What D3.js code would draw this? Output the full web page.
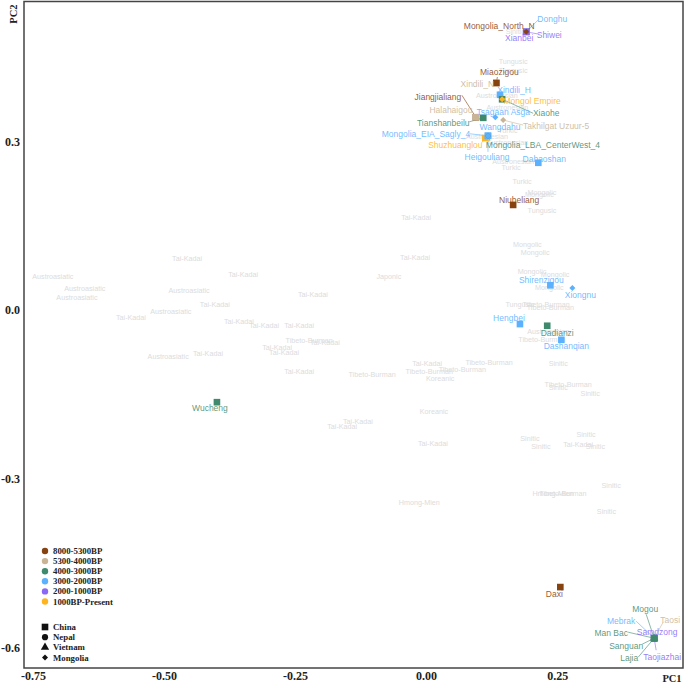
<!DOCTYPE html>
<html lang="en">
    <head>
        <meta charset="utf-8">
        <title>PCA of ancient and present-day populations</title>
        <script type="text/javascript" src="https://cdn.jsdelivr.net/npm/d3@7/dist/d3.min.js"></script>
        <style>
            html, body { margin: 0; padding: 0; background: #fff; }
            svg { display: block; }
        </style>
    </head>
    <body>
        <script type="text/javascript">
            // present-day reference groups (grey background labels)
            var groupNames = [
                "Sinitic", "Tungusic", "Tungusic", "Austronesian", "Austronesian", "Turkic", "Austronesian", "Austronesian",
                "Austronesian", "Turkic", "Turkic", "Mongolic", "Mongolic", "Tungusic", "Tai-Kadai", "Tai-Kadai",
                "Japonic", "Mongolic", "Mongolic", "Mongolic", "Mongolic", "Mongolic", "Tungusic", "Tibeto-Burman",
                "Tibeto-Burman", "Austronesian", "Tibeto-Burman", "Tai-Kadai", "Tai-Kadai", "Tai-Kadai", "Austroasiatic", "Austroasiatic",
                "Austroasiatic", "Austroasiatic", "Tai-Kadai", "Austroasiatic", "Tai-Kadai", "Tai-Kadai", "Tai-Kadai", "Tai-Kadai",
                "Tibeto-Burman", "Tai-Kadai", "Tai-Kadai", "Tai-Kadai", "Austroasiatic", "Tai-Kadai", "Tai-Kadai", "Tibeto-Burman",
                "Tai-Kadai", "Tibeto-Burman", "Tibeto-Burman", "Tibeto-Burman", "Koreanic", "Koreanic", "Tai-Kadai", "Tai-Kadai",
                "Tai-Kadai", "Hmong-Mien", "Sinitic", "Tibeto-Burman", "Sinitic", "Sinitic", "Sinitic", "Sinitic",
                "Sinitic", "Tai-Kadai", "Sinitic", "Sinitic", "Hmong-Mien", "Tibeto-Burman", "Sinitic"
            ];
            var groupPc1 = [
                .170, .166, .166, .135, .155, .156, .116, .155,
                .166, .162, .183, .221, .216, .221, -.019, -.021,
                -.071, .193, .208, .202, .246, .235, .179, .229,
                .237, .233, .221, -.456, -.349, -.216, -.712, -.651,
                -.666, -.452, -.403, -.487, -.563, -.357, -.309, -.242,
                -.223, -.193, -.284, -.271, -.492, -.416, -.242, -.103,
                .002, .006, .069, .120, .027, .015, -.130, -.160,
                .013, -.013, .252, .271, .252, .313, .305, .198,
                .219, .290, .323, .353, .242, .261, .344
            ];
            var groupPc2 = [
                .495, .443, .427, .381, .361, .319, .308, .299,
                .265, .254, .228, .210, .205, .178, .165, .094,
                .060, .117, .103, .069, .064, .041, .009, .009,
                .004, -.039, -.053, .091, .064, .028, .059, .039,
                .023, .034, .009, -.002, -.014, -.020, -.027, -.027,
                -.055, -.057, -.066, -.075, -.082, -.077, -.110, -.114,
                -.096, -.110, -.105, -.094, -.121, -.180, -.199, -.208,
                -.238, -.343, -.096, -.133, -.137, -.148, -.221, -.228,
                -.242, -.240, -.242, -.313, -.326, -.327, -.359
            ];

            // ancient samples
            var sampleNames = [
                "Mongolia_North_N", "Donghu", "Shiwei", "Xianbei", "Xindili_N", "Miaozigou", "Xindili_H", "Xiaohe",
                "Mongol Empire", "Jiangjialiang", "Halahaigou", "Tianshanbeilu", "Tsagaan Asga", "Takhilgat Uzuur-5", "Shuzhuanglou", "Mongolia_LBA_CenterWest_4",
                "Heigouliang", "Wangdahu", "Mongolia_EIA_Sagly_4", "Dabaoshan", "Niuheliang", "Shirenzigou", "Xiongnu", "Hengbei",
                "Dadianzi", "Dashanqian", "Wucheng", "Daxi", "Taosi", "Mebrak", "Taojiazhai", "Samdzong",
                "Man Bac", "Mogou", "Sanguan", "Lajia"
            ];
            var samplePc1 = [
                .191, .191, .191, .191, .134, .134, .141, .145,
                .145, .095, .095, .109, .132, .147, .113, .118,
                .118, .118, .118, .214, .166, .237, .279, .179,
                .231, .258, -.399, .256, .435, .435, .435, .435,
                .435, .435, .435, .435
            ];
            var samplePc2 = [
                .495, .495, .495, .495, .404, .404, .383, .375,
                .375, .343, .343, .342, .343, .338, .306, .310,
                .310, .310, .310, .262, .187, .044, .039, -.025,
                -.028, -.053, -.164, -.493, -.584, -.584, -.584, -.584,
                -.584, -.584, -.584, -.584
            ];
            // index into periodNames
            var samplePeriod = [
                0, 3, 4, 4, 1, 0, 3, 2,
                5, 0, 1, 2, 3, 1, 5, 2,
                3, 3, 3, 3, 0, 3, 3, 3,
                2, 3, 2, 0, 1, 3, 4, 4,
                2, 2, 2, 2
            ];
            // index into countryNames
            var sampleCountry = [
                3, 0, 0, 0, 0, 0, 0, 0,
                3, 0, 0, 0, 3, 3, 0, 3,
                0, 0, 3, 0, 0, 0, 3, 0,
                0, 0, 0, 0, 0, 1, 0, 1,
                2, 0, 0, 0
            ];

            var periodNames = ["8000-5300BP", "5300-4000BP", "4000-3000BP", "3000-2000BP", "2000-1000BP", "1000BP-Present"];
            var countryNames = ["China", "Nepal", "Vietnam", "Mongolia"];
            var xTicks = [-0.75, -0.50, -0.25, 0, 0.25];
            var yTicks = [0.3, 0, -0.3, -0.6];

            var periodColors = ["#86420f", "#c9b596", "#3f8a6d", "#5cb1ff", "#8a68f5", "#ffb41e"];
            // the Mongolia diamond is a square turned by 45 degrees
            var countrySymbols = [d3.symbolSquare, d3.symbolCircle, d3.symbolTriangle, d3.symbolSquare];
            var countrySizes = [44, 30, 30, 18];
            var countryAngles = [0, 0, 0, 45];

            // label offset from the point, then the end of the leader line (if any)
            var labelLayout = {
                "Mongolia_North_N": [-27, -6],
                "Donghu": [26, -13, 12, -12],
                "Shiwei": [23, 3, 11, 2],
                "Xianbei": [-7, 6],
                "Xindili_N": [-19, 1, -3, 1],
                "Miaozigou": [3, -11, 1, -6],
                "Xindili_H": [14, -5],
                "Xiaohe": [44, 14, 31, 14],
                "Mongol Empire": [30, 2],
                "Jiangjialiang": [-38, -20, -14, -22],
                "Halahaigou": [-25, -7],
                "Tianshanbeilu": [-40, 5, -14, 4],
                "Tsagaan Asga": [8, -5],
                "Takhilgat Uzuur-5": [53, 6, 20, 5],
                "Shuzhuanglou": [-30, 7, -4, 5],
                "Mongolia_LBA_CenterWest_4": [55, 9, 2, 5],
                "Heigouliang": [-1, 21, 0, 16],
                "Wangdahu": [12, -9],
                "Mongolia_EIA_Sagly_4": [-62, -2, -18, -2],
                "Dabaoshan": [6, -4],
                "Niuheliang": [6, -5],
                "Shirenzigou": [-9, -5],
                "Xiongnu": [8, 7],
                "Hengbei": [-11, -6],
                "Dadianzi": [10, 7],
                "Dashanqian": [5, 6],
                "Wucheng": [-7, 6],
                "Daxi": [-6, 7],
                "Taosi": [16, -18, 9, -16],
                "Mogou": [-9, -29, -8, -24],
                "Man Bac": [-43, -5, -26, -6],
                "Sanguan": [-28, 8, -12, 6],
                "Lajia": [-25, 20, -16, 19],
                "Mebrak": [-33, -17, -18, -17],
                "Taojiazhai": [8, 19, 2, 12],
                "Samdzong": [3, -6]
            };

            //width and height
            var svgWidth = 685;
            var svgHeight = 683;
            var sansFont = "'Liberation Sans', Arial, sans-serif";
            var serifFont = "'Liberation Serif', 'Times New Roman', serif";

            var svg = d3.select("body")
                        .append("svg")
                        .attr("width", svgWidth)
                        .attr("height", svgHeight);

            var xScale = d3.scaleLinear().domain([-0.767, 0.490]).range([24, 683]);
            var yScale = d3.scaleLinear().domain([-0.637, 0.549]).range([668, 1.5]);

            function symbolPath(country) {
                return d3.symbol().type(countrySymbols[country]).size(countrySizes[country])();
            }

            //define x and y axis, tick marks are not drawn in this figure
            var xAxis = d3.axisBottom(xScale)
                          .tickValues(xTicks)
                          .tickFormat(function(d) { return d.toFixed(2); })
                          .tickSize(0)
                          .tickPadding(3);
            var yAxis = d3.axisLeft(yScale)
                          .tickValues(yTicks)
                          .tickFormat(function(d) { return d.toFixed(1); })
                          .tickSize(0)
                          .tickPadding(4);

            var X = svg.append("g").attr("transform", "translate(0,668)").call(xAxis);
            var Y = svg.append("g").attr("transform", "translate(24,0)").call(yAxis);

            [X, Y].forEach(function(axis) {
                axis.select(".domain").remove();
                axis.selectAll("text")
                    .attr("font-family", serifFont)
                    .attr("font-size", "12px")
                    .attr("font-weight", "bold")
                    .attr("fill", "#222");
            });

            // frame
            svg.append("rect")
                .attr("x", 24)
                .attr("y", 1.5)
                .attr("width", 659)
                .attr("height", 666.5)
                .attr("fill", "none")
                .attr("stroke", "#444")
                .attr("stroke-width", 1.5);

            svg.append("text")
                .attr("transform", "translate(17,14) rotate(-90)")
                .attr("text-anchor", "middle")
                .attr("font-family", serifFont)
                .attr("font-size", "10.5px")
                .attr("font-weight", "bold")
                .attr("fill", "#222")
                .text("PC2");

            svg.append("text")
                .attr("x", 672)
                .attr("y", 682)
                .attr("text-anchor", "middle")
                .attr("font-family", serifFont)
                .attr("font-size", "10.5px")
                .attr("font-weight", "bold")
                .attr("fill", "#222")
                .text("PC1");

            // grey group labels
            svg.append("g")
                .selectAll("text")
                .data(groupNames)
                .enter()
                .append("text")
                .attr("x", function(d, i) { return xScale(groupPc1[i]); })
                .attr("y", function(d, i) { return yScale(groupPc2[i]); })
                .attr("dy", "0.35em")
                .attr("text-anchor", "middle")
                .attr("font-family", sansFont)
                .attr("font-size", "7.2px")
                .attr("fill", "#dcdcdc")
                .text(function(d) { return d; });

            var samples = sampleNames.map(function(name, i) {
                return {
                    name: name,
                    x: xScale(samplePc1[i]),
                    y: yScale(samplePc2[i]),
                    color: periodColors[samplePeriod[i]],
                    country: sampleCountry[i],
                    layout: labelLayout[name]
                };
            });

            // leader lines
            svg.append("g")
                .selectAll("line")
                .data(samples.filter(function(d) { return d.layout.length > 2; }))
                .enter()
                .append("line")
                .attr("x1", function(d) { return d.x; })
                .attr("y1", function(d) { return d.y; })
                .attr("x2", function(d) { return d.x + d.layout[2]; })
                .attr("y2", function(d) { return d.y + d.layout[3]; })
                .attr("stroke", function(d) { return d.color; })
                .attr("stroke-width", 0.6);

            // points, the Mongolia diamonds sit on top of the squares
            svg.append("g")
                .selectAll("path")
                .data(samples.filter(function(d) { return d.country != 3; })
                             .concat(samples.filter(function(d) { return d.country == 3; })))
                .enter()
                .append("path")
                .attr("transform", function(d) {
                    return "translate(" + d.x + "," + d.y + ") rotate(" + countryAngles[d.country] + ")";
                })
                .attr("d", function(d) { return symbolPath(d.country); })
                .attr("fill", function(d) { return d.color; });

            // point labels
            svg.append("g")
                .selectAll("text")
                .data(samples)
                .enter()
                .append("text")
                .attr("x", function(d) { return d.x + d.layout[0]; })
                .attr("y", function(d) { return d.y + d.layout[1]; })
                .attr("dy", "0.35em")
                .attr("text-anchor", "middle")
                .attr("font-family", sansFont)
                .attr("font-size", "8.5px")
                .attr("fill", function(d) { return d.color; })
                .attr("fill-opacity", 0.88)
                .text(function(d) { return d.name; });

            // period legend
            var periodScale = d3.scalePoint().domain(periodNames).range([551, 601.5]);
            var periodLegend = svg.append("g");

            periodLegend.selectAll("circle")
                .data(periodNames)
                .enter()
                .append("circle")
                .attr("cx", 45)
                .attr("cy", function(d) { return periodScale(d); })
                .attr("r", 3.2)
                .attr("fill", function(d, i) { return periodColors[i]; });

            periodLegend.selectAll("text")
                .data(periodNames)
                .enter()
                .append("text")
                .attr("x", 53)
                .attr("y", function(d) { return periodScale(d); })
                .attr("dy", "0.35em")
                .attr("font-family", serifFont)
                .attr("font-size", "8.8px")
                .attr("font-weight", "bold")
                .attr("fill", "#222")
                .text(function(d) { return d; });

            // country legend
            var countryScale = d3.scalePoint().domain(countryNames).range([627, 657.5]);
            var countryLegend = svg.append("g");

            countryLegend.selectAll("path")
                .data(countryNames)
                .enter()
                .append("path")
                .attr("transform", function(d, i) {
                    return "translate(45," + countryScale(d) + ") rotate(" + countryAngles[i] + ")";
                })
                .attr("d", function(d, i) { return symbolPath(i); })
                .attr("fill", "#111");

            countryLegend.selectAll("text")
                .data(countryNames)
                .enter()
                .append("text")
                .attr("x", 53)
                .attr("y", function(d) { return countryScale(d); })
                .attr("dy", "0.35em")
                .attr("font-family", serifFont)
                .attr("font-size", "8.8px")
                .attr("font-weight", "bold")
                .attr("fill", "#222")
                .text(function(d) { return d; });
        </script>
    </body>
</html>
